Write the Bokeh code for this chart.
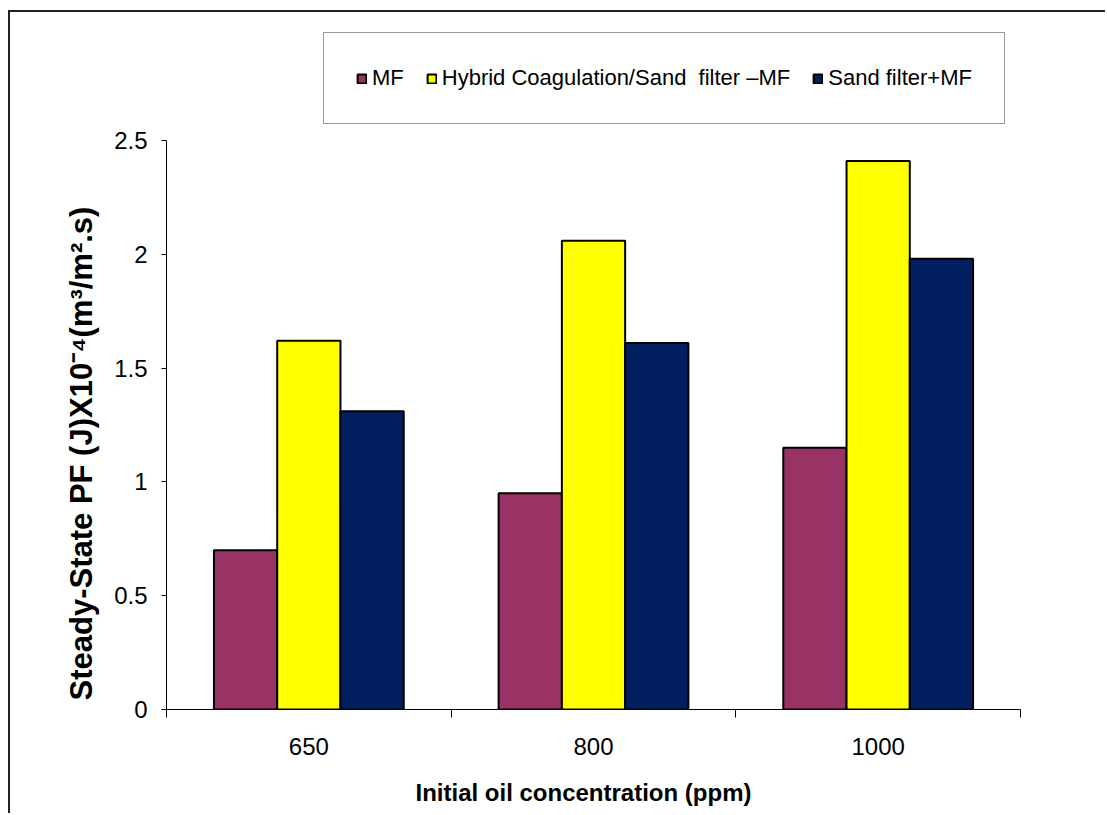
import numpy as np
from bokeh.plotting import figure
from bokeh.models import Range1d, FixedTicker, Legend, LegendItem, Title
from bokeh.embed import file_html
from bokeh.resources import INLINE

# ---- data ----
categories = ["650", "800", "1000"]
series_names = ["MF", "Hybrid Coagulation/Sand  filter \u2013MF", "Sand filter+MF"]
mf = [0.70, 0.95, 1.15]
hybrid = [1.62, 2.06, 2.41]
sand = [1.31, 1.61, 1.98]
y_ticks = [0, 0.5, 1, 1.5, 2, 2.5]
y_tick_labels = ["0", "0.5", "1", "1.5", "2", "2.5"]
y_max = 2.5
x_title = "Initial  oil  concentration  (ppm)"
y_title = "Steady-State  PF (J)X10\u207b\u2074(m\u00b3/m\u00b2.s)"
colors = ["#993366", "#FFFF00", "#022060"]

FONT = "Liberation Sans"

# layout (pixels): plot frame extended upward so the legend box can sit above the axis top
FRAME_TOP_PAD = 8
AXIS_H = 569
FRAME_H = 689
y_end = y_max * FRAME_H / AXIS_H

p = figure(width=1097, height=803, output_backend="svg", toolbar_location=None,
           x_range=Range1d(0, len(categories)), y_range=Range1d(0, y_end),
           min_border_left=156, min_border_right=87, min_border_top=FRAME_TOP_PAD,
           min_border_bottom=106)
p.styles = {"margin-left": "8px", "margin-top": "10px",
            "border-left": "2px solid #222", "border-top": "2px solid #222"}
p.outline_line_color = None
p.xgrid.visible = False
p.ygrid.visible = False
p.background_fill_color = "white"
p.border_fill_color = "white"

centers = np.arange(len(categories)) + 0.5
bw = 2.0 / 9.0
offsets = [-bw, 0.0, bw]
renderers = []
for vals, off, col in zip([mf, hybrid, sand], offsets, colors):
    r = p.vbar(x=centers + off, top=vals, width=bw, bottom=0,
               fill_color=col, line_color="black", line_width=2)
    renderers.append(r)

# x axis
xa = p.xaxis[0]
xa.ticker = FixedTicker(ticks=list(centers), minor_ticks=list(range(len(categories) + 1)))
xa.major_label_overrides = {float(c): lab for c, lab in zip(centers, categories)}
xa.major_tick_out = 0
xa.major_tick_in = 0
xa.minor_tick_out = 8
xa.minor_tick_in = 0
xa.minor_tick_line_color = "black"
xa.axis_line_color = "black"
xa.major_label_text_font = FONT
xa.major_label_text_font_size = "24px"
xa.major_label_text_color = "black"
xa.major_label_standoff = 20
xa.axis_label = x_title
xa.axis_label_text_font = FONT
xa.axis_label_text_font_size = "24px"
xa.axis_label_text_font_style = "bold"
xa.axis_label_text_color = "black"
xa.axis_label_standoff = 21

# y axis
ya = p.yaxis[0]
ya.bounds = (0, y_max)
ya.ticker = FixedTicker(ticks=y_ticks, minor_ticks=[])
ya.major_label_overrides = {float(t): lab for t, lab in zip(y_ticks, y_tick_labels)}
ya.major_tick_out = 5
ya.major_tick_in = 0
ya.major_tick_line_color = "black"
ya.axis_line_color = "black"
ya.major_label_text_font = FONT
ya.major_label_text_font_size = "24px"
ya.major_label_text_color = "black"
ya.major_label_standoff = 14

# y-axis title as a side title so it can be shifted along the axis
yt = Title(text=y_title, align="left", offset=9, standoff=26,
           text_font=FONT, text_font_size="31px", text_font_style="bold",
           text_color="black")
p.add_layout(yt, "left")

legend = Legend(items=[LegendItem(label=n, renderers=[r]) for n, r in zip(series_names, renderers)],
                orientation="horizontal", location=(157, 585))
legend.padding = 32
legend.spacing = 22
legend.margin = 0
legend.glyph_width = 11
legend.glyph_height = 11
legend.label_standoff = 5
legend.label_text_font = FONT
legend.label_text_font_size = "22px"
legend.label_text_color = "black"
legend.label_height = 22
legend.border_line_color = "#333333"
legend.border_line_width = 1.5
legend.background_fill_color = "white"
legend.background_fill_alpha = 1.0
p.add_layout(legend, "center")

open("out.html", "w").write(file_html(p, INLINE))
